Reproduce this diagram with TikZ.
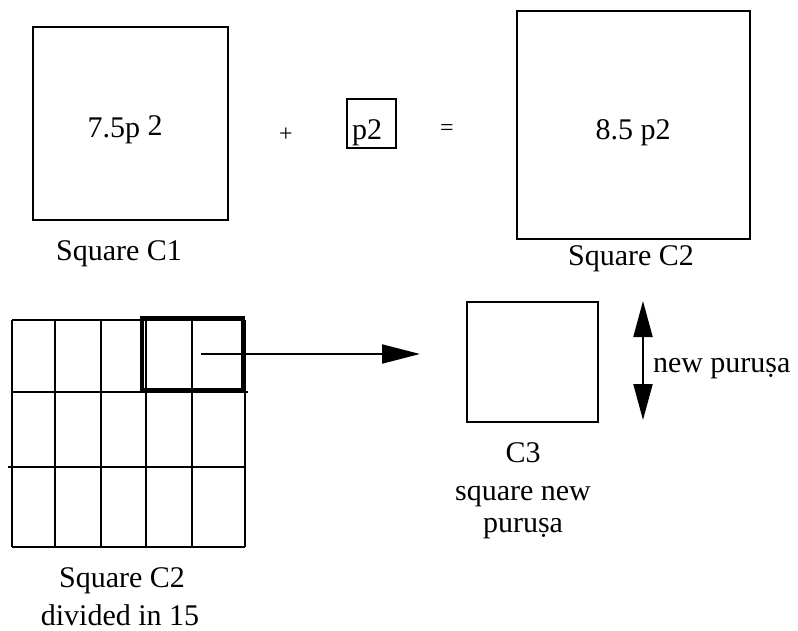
\documentclass[tikz,border=0pt]{standalone}
\usepackage{fontspec}
\setmainfont{Liberation Serif}
\usetikzlibrary{arrows.meta}
\begin{document}
\begin{tikzpicture}[x=0.5pt,y=-0.5pt,line width=1pt,
	box/.style={draw=black,inner sep=0pt,anchor=north west},
	lbl/.style={inner sep=0pt,anchor=base,font=\fontsize{15}{18}\selectfont},
	sign/.style={inner sep=0pt,font=\fontsize{12}{14}\selectfont},
	bigtip/.style={-{Triangle[length=19pt,width=9.5pt]}},
	bothtip/.style={{Triangle[length=18pt,width=9.5pt]}-{Triangle[length=18pt,width=9.5pt]}}]
		\useasboundingbox (0,0) rectangle (798,631);
		% first row: C1 + p2 = C2
		\node [box,minimum width=97.5pt,minimum height=96.5pt] (c1) at (31.5,26) {};
		\node [lbl] (c1val) at (125,138) {7.5p \raisebox{1.5pt}{2}};
		\node [lbl] (c1name) at (119,260) {Square C1};
		\node [sign] (plus) at (286,135) {+};
		\node [box,minimum width=24.5pt,minimum height=24.5pt] (unit) at (346,98) {};
		\node [lbl] (unitval) at (367,140) {p2};
		\node [sign] (equals) at (447,130) {=};
		\node [box,minimum width=116.5pt,minimum height=113.5pt] (c2) at (516,10.5) {};
		\node [lbl] (c2val) at (633,140) {8.5 p2};
		\node [lbl] (c2name) at (631,265) {Square C2};
		% second row: C2 cut in 15 parts
		\foreach \x in {12,55,101,146,192,245}
			\draw (\x,320) -- (\x,547);
		\draw (12,320) -- (245,320);
		\draw (12,392) -- (248,392);
		\draw (8,467) -- (245,467);
		\draw (12,547) -- (245,547);
		\draw [line width=2pt] (142,318) rectangle (243,390);
		\node [lbl] (gridname) at (122,587) {Square C2};
		\node [lbl] (gridnote) at (120,625) {divided in 15};
		% one part moved out as C3
		\coordinate (from) at (201,354);
		\coordinate (to) at (420,354);
		\draw [bigtip] (from) -- (to);
		\node [box,minimum width=65.5pt,minimum height=60pt] (c3) at (466,301) {};
		\node [lbl] (c3name) at (523,462) {C3};
		\node [lbl] (c3note) at (523,500) {square new};
		\node [lbl] (c3note2) at (523,532) {puruṣa};
		\coordinate (sidetop) at (643,301);
		\coordinate (sidebot) at (643,420);
		\draw [bothtip] (sidetop) -- (sidebot);
		\node [lbl,anchor=base west] (side) at (652,372) {new puruṣa};
\end{tikzpicture}
\end{document}
